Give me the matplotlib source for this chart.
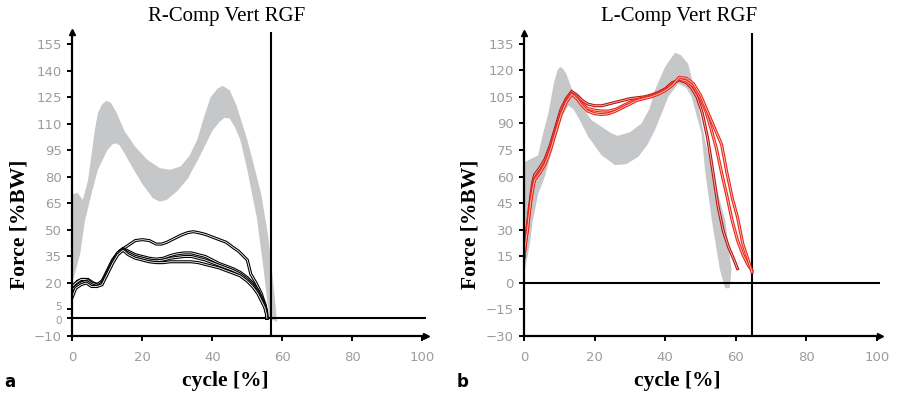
import numpy as np
import matplotlib
matplotlib.use('Agg')
import matplotlib.pyplot as plt
import matplotlib.transforms as mtrans

# ---- datos panel a (R-Comp Vert RGF) ----
a_band_up_x = [0, 1.5, 3, 4.5, 6.4, 7.3, 8.5, 9.7, 11, 12.5, 14.9, 18, 21.5, 25, 28, 31, 33.5, 35.7, 37.5,
               39.5, 41.5, 43, 45, 47, 50, 52.5, 54, 56, 58, 58.5]
a_band_up_y = [70, 71, 67, 78, 106, 116, 121, 123, 122, 117, 106, 97, 89.6, 85, 84, 86, 92, 101, 113,
               125, 130, 131.5, 129, 120, 101, 82, 70, 46, 9, -2]
a_band_lo_x = [0, 1, 2.3, 3.6, 5.7, 7.3, 10, 11.5, 12.5, 13.5, 15, 17, 20, 23, 25, 27, 30, 33, 36, 40, 42,
               43.5, 45, 46.5, 48, 50, 52.8, 54.7, 56, 56.3]
a_band_lo_y = [20, 27, 37, 55, 72, 84, 95, 98.5, 99, 98, 93, 86, 76, 68, 66, 67, 72, 79, 90, 106, 111,
               113.5, 113, 108, 101, 84, 56, 27, 5, 0]

a_top_x = [0, 0.5, 1.5, 3, 4.5, 6, 7.5, 9, 10.5, 12, 13.5, 15, 16.5, 18, 20, 22, 24, 25.5, 27, 29, 31, 33,
           34.5, 36, 38, 40, 42, 44, 46, 47.5, 49, 50, 51, 52.5, 54, 55, 55.5, 55.6]
a_top_y = [14, 19, 21, 22, 22, 20, 19, 22, 28, 34, 38, 40, 42, 44, 44.5, 44, 42, 42, 43, 45, 47, 48.5,
           49, 48.5, 47.5, 46, 44.5, 43, 40, 38, 35, 33, 25, 20, 14, 8, 3, 0]
a_grp_x = [0, 1, 2.5, 4, 5.5, 7, 8.5, 10, 11.5, 13, 14.5, 16, 18, 20, 22, 24, 26, 28, 30, 32, 34, 36, 38,
           40, 42, 44, 46, 48, 50, 51.5, 53, 54, 55, 55.5, 55.6]
a_grp1_y = [18, 20, 22, 22, 20, 19, 21, 27, 33, 37, 39.5, 38, 36, 35, 34, 33.5, 34, 35.5, 36.5, 37, 37, 36,
            35, 33, 31, 29.5, 28, 26, 23, 20, 16, 12, 8, 4, 0]
a_grp2_y = [16, 18, 20, 21, 19, 18, 20, 26, 32, 37, 39, 37, 35, 34, 33, 32.5, 33, 34, 34.5, 35, 35, 34,
            33, 31.5, 30, 28.5, 27, 25, 22, 19, 15, 11, 7, 3, 0]
a_grp3_y = [12, 17, 19, 20, 18, 18, 19, 25, 31, 36, 38.5, 36, 34, 33, 32, 31.5, 31.5, 32, 32, 32, 32, 31.5,
            30.5, 29.5, 28.5, 27, 25.5, 24, 21, 18, 14, 10, 6, 2, 0]
a_line_x = 56.9
a_yticks = [-10, 0, 5, 20, 35, 50, 65, 80, 95, 110, 125, 140, 155]

# ---- datos panel b (L-Comp Vert RGF) ----
b_band_up_x = [0, 2, 4, 5.5, 6.9, 8.5, 9.5, 10.2, 11, 12, 14.4, 19.2, 24.8, 26.5, 30, 33.3, 35.5, 37.1,
               40, 42.8, 44.5, 46.5, 48.9, 51.3, 53, 55, 57, 58.8, 58.3]
b_band_up_y = [68, 70, 72, 85, 95.6, 113, 120, 121.8, 121, 118, 105, 91.8, 84.4, 83, 85, 90, 98, 108.7,
               122, 130, 128.5, 123.7, 105, 80.6, 66, 50, 35.6, 7.5, -3]
b_band_lo_x = [0, 1.5, 2.5, 4, 5.9, 8.8, 11, 12.6, 14, 15.5, 18.2, 22, 25.8, 29, 32.4, 35, 37.1, 40.9,
               43.7, 46, 47.5, 50.3, 51.3, 53.2, 55.5, 57]
b_band_lo_y = [5, 20, 35, 50, 60, 80.6, 95, 100, 98, 93, 82.5, 72, 66.5, 67, 71.2, 78, 86.2, 105,
               112.5, 110, 105, 84.4, 63.7, 35.6, 7.5, -3]

b_r1_x = [0, 0.5, 1, 1.5, 2, 2.5, 3, 4.5, 6, 7.5, 9, 10.5, 12, 13.5, 15, 16.5, 18, 20, 22, 24, 26, 28, 30,
          32, 34, 36, 38, 40, 42, 44, 46, 47.5, 49, 50.5, 52, 53.5, 55, 56.5, 58, 59.5, 60.5]
b_r1_y = [14, 25, 33, 42, 50, 57, 61, 65, 70, 78, 88, 98, 104, 108, 106, 103, 101, 100, 100, 101, 102, 103,
          104, 104.5, 105, 106, 107.5, 109.5, 113, 114.5, 113, 110, 105, 96, 82, 63, 43, 29, 20, 13, 8]
b_r_x = [0, 0.5, 1, 1.5, 2, 2.5, 3, 4.5, 6, 7.5, 9, 10.5, 12, 13.5, 15, 16.5, 18, 20, 22, 24, 26, 28, 30,
         32, 34, 36, 38, 40, 42, 44, 46, 48, 50, 51.5, 53, 54.5, 56, 57.5, 59, 60.5, 62, 63.5, 64.6]
b_r2_y = [16, 24, 31, 40, 48, 55, 59, 63, 68, 76, 86, 96, 103, 107, 105, 101, 98.5, 97.5, 97, 97, 98, 100,
          102, 103.5, 104.5, 105.5, 107, 109, 112, 115, 114, 111, 104, 97, 87, 76, 62, 49, 35, 24, 16, 10, 7]
b_r3_y = [15, 23, 30, 39, 47, 53, 58, 62, 67, 75, 85, 95, 102, 106.5, 104, 100, 97, 95.5, 95, 95.5, 97, 99,
          101, 103, 104, 105, 106.5, 108.5, 111.5, 116, 115.5, 112.5, 106, 99, 92, 85, 78, 62, 48, 37, 22,
          13, 6]
b_line_x = 64.7
b_yticks = [-30, -15, 0, 15, 30, 45, 60, 75, 90, 105, 120, 135]

xticks = [0, 20, 40, 60, 80, 100]

band_col = '#c6c7c9'
tick_col = '#9c9c9c'
serif = ['Liberation Serif', 'DejaVu Serif']

fig = plt.figure(figsize=(8.98, 3.98), dpi=100)


def panel(ax, ylim, yticks, vline):
    ax.set_xlim(0, 101)
    ax.set_ylim(*ylim)
    for s in ['top', 'right']:
        ax.spines[s].set_visible(False)
    for s in ['left', 'bottom']:
        ax.spines[s].set_linewidth(1.6)
    ax.set_xticks(xticks)
    ax.set_yticks(yticks)
    ax.tick_params(length=3.5, width=1.4, colors='black', labelcolor=tick_col, labelsize=9.5, pad=4)
    ax.tick_params(axis='x', pad=7)
    ax.axhline(0, color='black', lw=1.5)
    ax.axvline(vline, color='black', lw=1.5)
    ax.plot(1, 0, '>k', transform=ax.transAxes, clip_on=False, markersize=4)
    ax.plot(0, 1, '^k', transform=ax.transAxes, clip_on=False, markersize=4)


def hollow(ax, x, y, col, inner):
    ax.plot(x, y, color=col, lw=2.2, solid_joinstyle='miter')
    ax.plot(x, y, color=inner, lw=0.6)


# panel a
ax1 = fig.add_axes([0.0805, 0.1558, 0.3937, 0.7638])
ax1.fill(a_band_up_x + a_band_lo_x[::-1], a_band_up_y + a_band_lo_y[::-1], color=band_col, lw=0)
panel(ax1, (-10, 162), a_yticks, a_line_x)
hollow(ax1, a_top_x, a_top_y, 'black', 'white')
for yy in [a_grp1_y, a_grp2_y, a_grp3_y]:
    hollow(ax1, a_grp_x, yy, 'black', 'white')

# las etiquetas 0 y 5 quedan casi encimadas: se achican y se separan un poco
fig.canvas.draw()
for lab in ax1.get_yticklabels():
    if lab.get_text() in ('0', '5'):
        lab.set_fontsize(7.5)
        dy = 2.5 if lab.get_text() == '5' else -1.5
        lab.set_transform(lab.get_transform() + mtrans.ScaledTranslation(0, dy / 72, fig.dpi_scale_trans))

# panel b
ax2 = fig.add_axes([0.5835, 0.1558, 0.397, 0.761])
ax2.fill(b_band_up_x + b_band_lo_x[::-1], b_band_up_y + b_band_lo_y[::-1], color=band_col, lw=0)
panel(ax2, (-30, 141), b_yticks, b_line_x)
hollow(ax2, b_r1_x, b_r1_y, '#b01a1a', '#ffb8b0')
hollow(ax2, b_r_x, b_r2_y, '#e8261a', '#ffc8c0')
hollow(ax2, b_r_x, b_r3_y, '#e8261a', '#ffc8c0')

# textos
fig.text(227 / 898, 1 - 17 / 398, 'R-Comp Vert RGF', family=serif, fontsize=15, ha='center', va='center')
fig.text(679 / 898, 1 - 17 / 398, 'L-Comp Vert RGF', family=serif, fontsize=15, ha='center', va='center')
for xc in [20, 470]:
    fig.text(xc / 898, 1 - 224 / 398, 'Force [%BW]', family=serif, fontsize=15.5, fontweight='bold',
             rotation=90, ha='center', va='center')
for xc in [225, 677]:
    fig.text(xc / 898, 1 - 381 / 398, 'cycle [%]', family=serif, fontsize=15.5, fontweight='bold',
             ha='center', va='center')
fig.text(4 / 898, 1 - 382 / 398, 'a', fontsize=12, fontweight='bold', ha='left', va='center')
fig.text(457 / 898, 1 - 382 / 398, 'b', fontsize=12, fontweight='bold', ha='left', va='center')

fig.savefig('out.png', dpi=100)
